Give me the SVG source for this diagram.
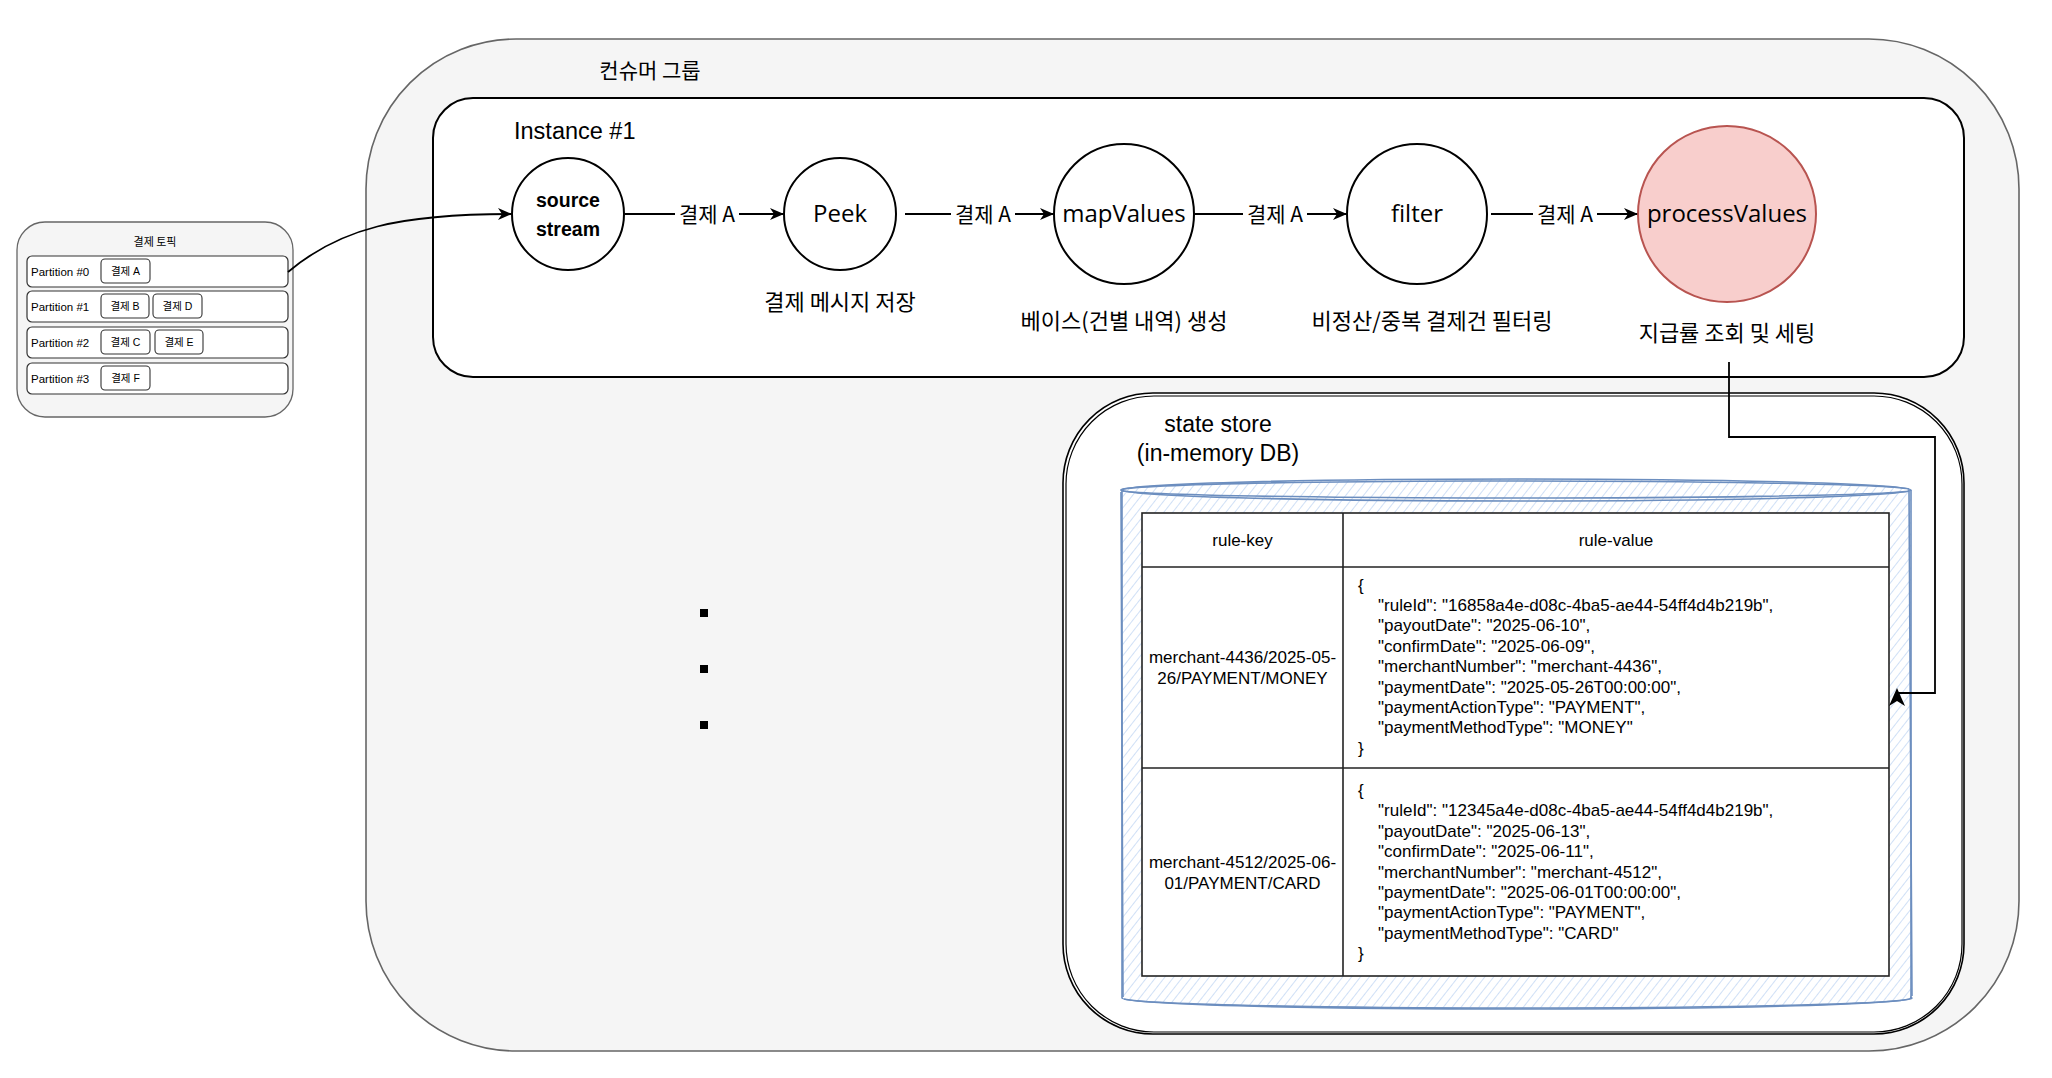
<svg xmlns="http://www.w3.org/2000/svg" width="2052" height="1078" viewBox="0 0 2052 1078">
<defs>
<style>
text{font-family:"Liberation Sans","Noto Sans CJK KR",sans-serif;fill:#000}
.kr{font-family:"Noto Sans CJK KR","Liberation Sans",sans-serif}
.mid{text-anchor:middle;dominant-baseline:central}
.lbl{font-size:21px}
.sub{font-size:22px}
.node{fill:#fff;stroke:#000;stroke-width:2}
.op{font-family:"Open Sans","Liberation Sans",sans-serif;font-size:24px}
.edge{fill:none;stroke:#000;stroke-width:1.8}
.row{fill:#fff;stroke:#333;stroke-width:1.2}
.chip{fill:#fff;stroke:#333;stroke-width:1.1}
.ptxt{font-size:11.5px;dominant-baseline:central}
.ctxt{font-size:10.5px}
.tb{font-size:17px}
.cyl{fill:none;stroke:#6c8ebf;stroke-width:1.6}
</style>
<marker id="arr" viewBox="0 0 14 12" refX="13" refY="6" markerWidth="14" markerHeight="12" markerUnits="userSpaceOnUse" orient="auto">
<path d="M0,0 L14,6 L0,12 L4,6 Z" fill="#000"/>
</marker>
<pattern id="hatch" width="7" height="7" patternUnits="userSpaceOnUse" patternTransform="rotate(38)">
<line x1="0" y1="0" x2="0" y2="7" stroke="#bcd2f2" stroke-width="1.4"/>
</pattern>
</defs>
<rect width="2052" height="1078" fill="#fff"/>

<g id="consumer-group">
<rect x="366" y="39" width="1653" height="1012" rx="150" fill="#f5f5f5" stroke="#666" stroke-width="1.6"/>
<text class="kr mid" x="650" y="69" font-size="21">컨슈머 그룹</text>
</g>

<g id="instance-1">
<rect x="433" y="98" width="1531" height="279" rx="40" fill="#fff" stroke="#000" stroke-width="2"/>
<text x="514" y="131" font-size="23.5" dominant-baseline="central">Instance #1</text>
</g>

<g id="topic">
<rect x="17" y="222" width="276" height="195" rx="28" fill="#f5f5f5" stroke="#666" stroke-width="1.3"/>
<text class="kr mid" x="155" y="241" font-size="11">결제 토픽</text>
<rect class="row" x="27" y="256" width="261" height="31" rx="5"/>
<text class="ptxt" x="31" y="272">Partition #0</text>
<rect class="chip" x="101" y="259" width="49" height="24" rx="4"/>
<text class="ctxt mid" x="125.5" y="271">결제 A</text>
<rect class="row" x="27" y="291" width="261" height="31" rx="5"/>
<text class="ptxt" x="31" y="307">Partition #1</text>
<rect class="chip" x="101" y="294" width="48" height="24" rx="4"/>
<text class="ctxt mid" x="125" y="306">결제 B</text>
<rect class="chip" x="153" y="294" width="49" height="24" rx="4"/>
<text class="ctxt mid" x="177.5" y="306">결제 D</text>
<rect class="row" x="27" y="327" width="261" height="31" rx="5"/>
<text class="ptxt" x="31" y="343">Partition #2</text>
<rect class="chip" x="101" y="330" width="49" height="24" rx="4"/>
<text class="ctxt mid" x="125.5" y="342">결제 C</text>
<rect class="chip" x="155" y="330" width="48" height="24" rx="4"/>
<text class="ctxt mid" x="179" y="342">결제 E</text>
<rect class="row" x="27" y="363" width="261" height="31" rx="5"/>
<text class="ptxt" x="31" y="379">Partition #3</text>
<rect class="chip" x="101" y="366" width="49" height="24" rx="4"/>
<text class="ctxt mid" x="125.5" y="378">결제 F</text>
</g>

<g id="node-source-stream">
<circle class="node" cx="568" cy="214" r="56"/>
<text class="mid" x="568" y="200" font-family="DejaVu Sans, sans-serif" font-size="19.5" font-weight="bold">source</text>
<text class="mid" x="568" y="229" font-family="DejaVu Sans, sans-serif" font-size="19.5" font-weight="bold">stream</text>
</g>

<g id="node-peek">
<circle class="node" cx="840" cy="214" r="56"/>
<text class="op mid" x="840" y="212">Peek</text>
<text class="kr mid sub" x="840" y="300">결제 메시지 저장</text>
</g>

<g id="node-mapvalues">
<circle class="node" cx="1124" cy="214" r="70"/>
<text class="op mid" x="1124" y="212">mapValues</text>
<text class="kr mid sub" x="1124" y="319">베이스(건별 내역) 생성</text>
</g>

<g id="node-filter">
<circle class="node" cx="1417" cy="214" r="70"/>
<text class="op mid" x="1417" y="212">filter</text>
<text class="kr mid sub" x="1432" y="319">비정산/중복 결제건 필터링</text>
</g>

<g id="node-processvalues">
<ellipse cx="1727" cy="214" rx="89" ry="88" fill="#f8cecc" stroke="#b85450" stroke-width="2"/>
<text class="op mid" x="1727" y="212">processValues</text>
<text class="kr mid sub" x="1727" y="331">지급률 조회 및 세팅</text>
</g>

<g id="state-store">
<rect x="1063" y="393" width="901" height="641" rx="90" fill="#fff" stroke="#000" stroke-width="1.6"/>
<rect x="1066" y="396" width="896" height="636" rx="88" fill="none" stroke="#000" stroke-width="1.2"/>
<text class="mid" x="1218" y="424" font-size="23">state store</text>
<text class="mid" x="1218" y="453" font-size="23">(in-memory DB)</text>
<path d="M1122,490 A394.5,11 0 0 1 1911,490 L1911,998 A394.5,11 0 0 1 1122,998 Z" fill="url(#hatch)"/>
<path class="cyl" d="M1122,490 A394.5,11 0 0 1 1911,490 L1911,998 A394.5,11 0 0 1 1122,998 Z"/>
<path class="cyl" d="M1124,491 A393,9 0 0 1 1909,489 M1909,489 L1912,996 M1121,492 L1123,997 M1124,999 A393,10 0 0 0 1910,997" stroke-width="1.2"/>
<path class="cyl" d="M1122,490 A394.5,11 0 0 0 1911,490"/>
<path class="cyl" d="M1124,489 A393,8 0 0 0 1909,491" stroke-width="1.1"/>
<rect x="1142" y="513" width="747" height="463" fill="#fff" stroke="#222" stroke-width="1.6"/>
<line x1="1343" y1="513" x2="1343" y2="976" stroke="#222" stroke-width="1.6"/>
<line x1="1142" y1="567" x2="1889" y2="567" stroke="#222" stroke-width="1.6"/>
<line x1="1142" y1="768" x2="1889" y2="768" stroke="#222" stroke-width="1.6"/>
<text class="tb mid" x="1242.5" y="540">rule-key</text>
<text class="tb mid" x="1616" y="540">rule-value</text>
<text class="tb mid" x="1242.5" y="657">merchant-4436/2025-05-</text>
<text class="tb mid" x="1242.5" y="678">26/PAYMENT/MONEY</text>
<text class="tb mid" x="1242.5" y="862">merchant-4512/2025-06-</text>
<text class="tb mid" x="1242.5" y="883">01/PAYMENT/CARD</text>
<g class="tb" dominant-baseline="central">
<text x="1358" y="585">{</text>
<text x="1378" y="605.4">"ruleId": "16858a4e-d08c-4ba5-ae44-54ff4d4b219b",</text>
<text x="1378" y="625.8">"payoutDate": "2025-06-10",</text>
<text x="1378" y="646.2">"confirmDate": "2025-06-09",</text>
<text x="1378" y="666.6">"merchantNumber": "merchant-4436",</text>
<text x="1378" y="687">"paymentDate": "2025-05-26T00:00:00",</text>
<text x="1378" y="707.4">"paymentActionType": "PAYMENT",</text>
<text x="1378" y="727.8">"paymentMethodType": "MONEY"</text>
<text x="1358" y="748.2">}</text>
<text x="1358" y="790.4">{</text>
<text x="1378" y="810.8">"ruleId": "12345a4e-d08c-4ba5-ae44-54ff4d4b219b",</text>
<text x="1378" y="831.2">"payoutDate": "2025-06-13",</text>
<text x="1378" y="851.6">"confirmDate": "2025-06-11",</text>
<text x="1378" y="872">"merchantNumber": "merchant-4512",</text>
<text x="1378" y="892.4">"paymentDate": "2025-06-01T00:00:00",</text>
<text x="1378" y="912.8">"paymentActionType": "PAYMENT",</text>
<text x="1378" y="933.2">"paymentMethodType": "CARD"</text>
<text x="1358" y="953.6">}</text>
</g>
</g>

<g id="ellipsis">
<rect x="700" y="609" width="8" height="8" fill="#000"/>
<rect x="700" y="665" width="8" height="8" fill="#000"/>
<rect x="700" y="721" width="8" height="8" fill="#000"/>
</g>

<g id="connectors">
<path class="edge" d="M288,272 C340,228 400,214 511,214" marker-end="url(#arr)"/>
<path class="edge" d="M625,214 L783,214" marker-end="url(#arr)"/>
<rect x="675" y="201" width="64" height="26" fill="#fff"/>
<text class="kr mid lbl" x="707" y="213">결제 A</text>
<path class="edge" d="M905,214 L1053,214" marker-end="url(#arr)"/>
<rect x="951" y="201" width="64" height="26" fill="#fff"/>
<text class="kr mid lbl" x="983" y="213">결제 A</text>
<path class="edge" d="M1195,214 L1346,214" marker-end="url(#arr)"/>
<rect x="1243" y="201" width="64" height="26" fill="#fff"/>
<text class="kr mid lbl" x="1275" y="213">결제 A</text>
<path class="edge" d="M1491,214 L1637,214" marker-end="url(#arr)"/>
<rect x="1533" y="201" width="64" height="26" fill="#fff"/>
<text class="kr mid lbl" x="1565" y="213">결제 A</text>
<path class="edge" d="M1729,362 L1729,437 L1935,437 L1935,693 L1897,693"/>
<path d="M1897,688 L1905,706 L1897,701 L1889,706 Z" fill="#000"/>
</g>
</svg>
